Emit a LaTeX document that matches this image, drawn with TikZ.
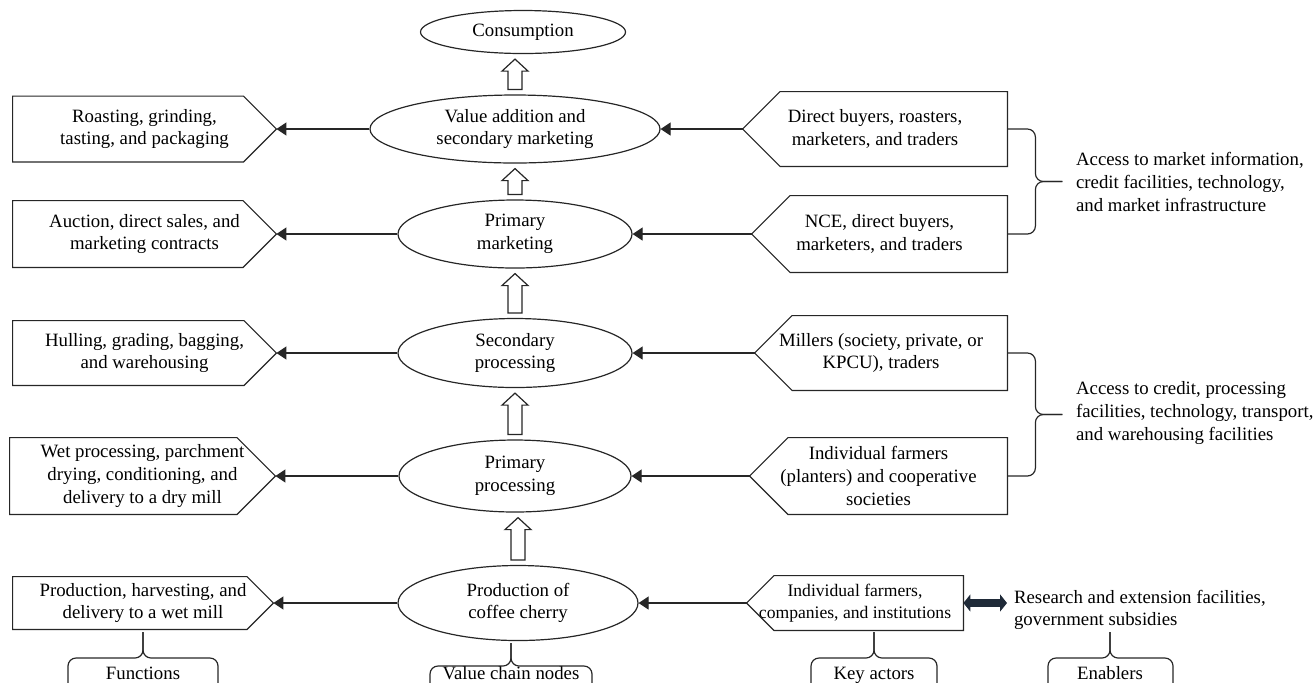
\documentclass[tikz,border=0pt]{standalone}
\usepackage{fontspec}
\setmainfont{Liberation Serif}
\usetikzlibrary{shapes.geometric,arrows.meta,calc}
\definecolor{arrnavy}{HTML}{1F2A38}

\tikzset{
  ln/.style={line width=0.6pt, draw=black!85},
  vcnode/.style={ellipse, ln, align=center, inner sep=0pt},
  pbox/.style={align=center, inner sep=0pt},
  flow/.style={ln, -{Triangle[length=5pt,width=6.5pt]}},
  hollow/.style={ln, fill=white},
  brc/.style={ln, rounded corners=4pt},
  dblarr/.style={draw=arrnavy, line width=4pt, {Triangle[length=3.5pt,width=8.5pt]}-{Triangle[length=3.5pt,width=8.5pt]}},
}

% outline of a function box (points right)
\newcommand{\fnshape}[1]{%
  \draw[ln] let \p1=(#1.north east), \p2=(#1.south west), \p3=(#1.east) in
    (\x2,\y1) -- (\x1-\y1+\y3,\y1) -- (\x1,\y3) -- (\x1-\y1+\y3,\y2) -- (\x2,\y2) -- cycle;}
% outline of an actor box (points left)
\newcommand{\actshape}[1]{%
  \draw[ln] let \p1=(#1.north west), \p2=(#1.south east), \p3=(#1.west) in
    (\x2,\y1) -- (\x1+\y1-\y3,\y1) -- (\x1,\y3) -- (\x1+\y1-\y3,\y2) -- (\x2,\y2) -- cycle;}
% hollow arrow from one chain node up to the next
\newcommand{\hollowarr}[2]{%
  \draw[hollow] let \p1=(#1.north), \p2=(#2.south) in
    (\x1-3.5pt,\y1+2.5pt) -- (\x1+3.5pt,\y1+2.5pt) -- (\x1+3.5pt,\y2-8.5pt) -- (\x1+6.5pt,\y2-8.5pt)
    -- (\x1,\y2-2.5pt) -- (\x1-6.5pt,\y2-8.5pt) -- (\x1-3.5pt,\y2-8.5pt) -- cycle;}

\begin{document}
\begin{tikzpicture}[x=0.5pt,y=-0.5pt,every node/.style={font=\fontsize{9.4}{11.3}\selectfont}]
    \useasboundingbox (0,0) rectangle (1315,682);

    % value chain nodes
    \node[vcnode, minimum width=102.5pt, minimum height=21.5pt] (cons) at (523,32) {Consumption};
    \node[vcnode, minimum width=145pt, minimum height=34pt] (vadd) at (515,129) {Value addition and\\secondary marketing};
    \node[vcnode, minimum width=117pt, minimum height=34pt] (pmkt) at (515,234) {Primary\\marketing};
    \node[vcnode, minimum width=117pt, minimum height=34.5pt] (sproc) at (515,353) {Secondary\\processing};
    \node[vcnode, minimum width=116pt, minimum height=36pt] (pproc) at (515,476) {Primary\\processing};
    \node[vcnode, minimum width=120pt, minimum height=37.5pt] (prod) at (518,603) {Production of\\coffee cherry};

    \hollowarr{vadd}{cons}
    \hollowarr{pmkt}{vadd}
    \hollowarr{sproc}{pmkt}
    \hollowarr{pproc}{sproc}
    \hollowarr{prod}{pproc}

    % functions
    \node[pbox, minimum width=131.5pt, minimum height=32.5pt] (fn1) at (144.5,129) {Roasting, grinding,\\tasting, and packaging};
    \node[pbox, minimum width=131.5pt, minimum height=33pt] (fn2) at (144.5,234) {Auction, direct sales, and\\marketing contracts};
    \node[pbox, minimum width=131.5pt, minimum height=32pt] (fn3) at (144.5,353) {Hulling, grading, bagging,\\and warehousing};
    \node[pbox, minimum width=132.5pt, minimum height=38pt] (fn4) at (142.5,476) {Wet processing, parchment\\drying, conditioning, and\\delivery to a dry mill};
    \node[pbox, minimum width=130pt, minimum height=26pt] (fn5) at (143,603) {Production, harvesting, and\\delivery to a wet mill};
    \foreach \b in {fn1,fn2,fn3,fn4,fn5} {\fnshape{\b}}

    % key actors
    \node[pbox, minimum width=132pt, minimum height=37pt] (act1) at (875,129) {Direct buyers, roasters,\\marketers, and traders};
    \node[pbox, minimum width=127.5pt, minimum height=38pt] (act2) at (879.5,234) {NCE, direct buyers,\\marketers, and traders};
    \node[pbox, minimum width=126pt, minimum height=37pt] (act3) at (881,353) {Millers (society, private, or\\KPCU), traders};
    \node[pbox, minimum width=128.5pt, minimum height=38pt] (act4) at (878.5,476) {Individual farmers\\(planters) and cooperative\\societies};
    \node[pbox, minimum width=108pt, minimum height=27pt, font=\fontsize{8.8}{10.8}\selectfont] (act5) at (855,603) {Individual farmers,\\companies, and institutions};
    \foreach \b in {act1,act2,act3,act4,act5} {\actshape{\b}}

    % horizontal links
    \draw[flow] (act1.west) -- (vadd.east);
    \draw[flow] (act2.west) -- (pmkt.east);
    \draw[flow] (act3.west) -- (sproc.east);
    \draw[flow] (act4.west) -- (pproc.east);
    \draw[flow] (act5.west) -- (prod.east);
    \draw[flow] (vadd.west) -- (fn1.east);
    \draw[flow] (pmkt.west) -- (fn2.east);
    \draw[flow] (sproc.west) -- (fn3.east);
    \draw[flow] (pproc.west) -- (fn4.east);
    \draw[flow] (prod.west) -- (fn5.east);

    % enablers
    \node[anchor=west, align=left] (acc1) at (1069,182) {Access to market information,\\credit facilities, technology,\\and market infrastructure};
    \node[anchor=west, align=left] (acc2) at (1069,413) {Access to credit, processing\\facilities, technology, transport,\\and warehousing facilities};
    \node[anchor=west, align=left] (enab) at (1007,610) {Research and extension facilities,\\government subsidies};
    \draw[dblarr] (act5.east) -- (act5.east -| enab.west);

    \coordinate (b1m) at ($(act1.east)!.5!(act2.east)$);
    \coordinate (b2m) at ($(act3.east)!.5!(act4.east)$);
    \draw[brc] (act1.east) -- ++(28,0) |- ($(b1m)+(55,0)$);
    \draw[brc] (act2.east) -- ++(28,0) |- ($(b1m)+(55,0)$);
    \draw[brc] (act3.east) -- ++(28,0) |- ($(b2m)+(55,0)$);
    \draw[brc] (act4.east) -- ++(28,0) |- ($(b2m)+(55,0)$);

    % column labels
    \node[anchor=base] (lblfn) at (143,679) {Functions};
    \node[anchor=base] (lblvc) at (511,679) {Value chain nodes};
    \node[anchor=base] (lblka) at (874,679) {Key actors};
    \node[anchor=base] (lblen) at (1110,679) {Enablers};

    \coordinate (fnb1) at (68,690);   \coordinate (fnb2) at (218,690);   \coordinate (fnt) at (143,632);
    \coordinate (vcb1) at (430,690);  \coordinate (vcb2) at (592,690);   \coordinate (vct) at (511,643);
    \coordinate (kab1) at (811,690);  \coordinate (kab2) at (937,690);   \coordinate (kat) at (874,632);
    \coordinate (enb1) at (1048,690); \coordinate (enb2) at (1173,690);  \coordinate (ent) at (1110,632);
    \draw[brc] (fnb1) |- ($(fnt)+(0,26)$) -- (fnt);  \draw[brc] (fnb2) |- ($(fnt)+(0,26)$) -- (fnt);
    \draw[brc] (vcb1) |- ($(vct)+(0,23)$) -- (vct);  \draw[brc] (vcb2) |- ($(vct)+(0,23)$) -- (vct);
    \draw[brc] (kab1) |- ($(kat)+(0,26)$) -- (kat);  \draw[brc] (kab2) |- ($(kat)+(0,26)$) -- (kat);
    \draw[brc] (enb1) |- ($(ent)+(0,26)$) -- (ent);  \draw[brc] (enb2) |- ($(ent)+(0,26)$) -- (ent);
\end{tikzpicture}
\end{document}
